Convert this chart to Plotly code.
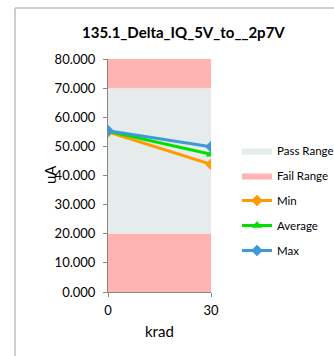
import plotly.graph_objects as go

# Data
krad = [0, 30]
min_vals = [55.0, 43.8]
avg_vals = [55.2, 47.3]
max_vals = [55.4, 49.9]
pass_low = 20
pass_high = 70
fail_low = 0
fail_high = 80
y_ticks = [0, 10, 20, 30, 40, 50, 60, 70, 80]
x_ticks = [0, 30]

x0, x1 = krad[0], krad[-1]

fig = go.Figure()
fig.add_trace(go.Scatter(
    x=[x0, x1, x1, x0], y=[pass_low, pass_low, pass_high, pass_high],
    fill="toself", fillcolor="#E6EBEB", line=dict(width=0, color="#E6EBEB"),
    mode="lines", name="Pass Range", legendgroup="a", hoverinfo="skip"))
fig.add_trace(go.Scatter(
    x=[x0, x1, x1, x0, None, x0, x1, x1, x0],
    y=[fail_low, fail_low, pass_low, pass_low, None, pass_high, pass_high, fail_high, fail_high],
    fill="toself", fillcolor="#FFB3B3", line=dict(width=0, color="#FFB3B3"),
    mode="lines", name="Fail Range", legendgroup="b", hoverinfo="skip"))
fig.add_trace(go.Scatter(
    x=krad, y=min_vals, name="Min", mode="lines+markers", legendgroup="c",
    line=dict(color="#FF9A00", width=3),
    marker=dict(symbol="diamond", size=9, color="#FF9A00")))
fig.add_trace(go.Scatter(
    x=krad, y=avg_vals, name="Average", mode="lines+markers", legendgroup="d",
    line=dict(color="#00E000", width=3),
    marker=dict(symbol="triangle-up", size=9, color="#00E000")))
fig.add_trace(go.Scatter(
    x=krad, y=max_vals, name="Max", mode="lines+markers", legendgroup="e",
    line=dict(color="#3C9AD6", width=3),
    marker=dict(symbol="diamond", size=9, color="#3C9AD6")))

W, H = 334, 356
L, T = 108, 59
pw, ph = 103, 233
R = W - L - pw
B = H - T - ph

def px(x):
    return (x - L) / pw

def py(y):
    return (H - B - y) / ph

font = "Lato, Liberation Sans, Arial, sans-serif"
fig.update_layout(
    width=W, height=H,
    margin=dict(l=L, r=R, t=T, b=B, autoexpand=False),
    paper_bgcolor="white", plot_bgcolor="white",
    font=dict(family=font, size=12, color="#000000"),
    showlegend=True,
    legend=dict(x=px(237), y=py(136), xanchor="left", yanchor="top",
                font=dict(size=11.5), tracegroupgap=6, bgcolor="rgba(0,0,0,0)"),
    xaxis=dict(range=[x0, x1], tickvals=x_ticks, showgrid=False, zeroline=False,
               showline=True, linecolor="#868686", linewidth=1,
               ticks="outside", ticklen=4, tickcolor="#868686",
               tickfont=dict(size=13), automargin=False, ticklabelstandoff=2),
    yaxis=dict(range=[fail_low, fail_high], tickvals=y_ticks, tickformat=".3f",
               showgrid=False, zeroline=False,
               showline=True, linecolor="#868686", linewidth=1,
               ticks="outside", ticklen=4, tickcolor="#868686",
               tickfont=dict(size=13), automargin=False, ticklabelstandoff=5),
    annotations=[
        dict(text="<b>135.1_Delta_IQ_5V_to__2p7V</b>", x=px(183), y=py(32),
             xref="paper", yref="paper", showarrow=False,
             font=dict(size=15), xanchor="center", yanchor="middle"),
        dict(text="uA", x=px(50), y=py(175), xref="paper", yref="paper",
             showarrow=False, textangle=-90, font=dict(size=15),
             xanchor="center", yanchor="middle"),
        dict(text="krad", x=px(159), y=py(331), xref="paper", yref="paper",
             showarrow=False, font=dict(size=15),
             xanchor="center", yanchor="middle"),
    ],
    shapes=[
        dict(type="line", xref="paper", yref="paper", x0=px(15), x1=px(340),
             y0=py(8), y1=py(8), line=dict(color="#BFBFBF", width=1.5)),
        dict(type="line", xref="paper", yref="paper", x0=px(15), x1=px(15),
             y0=py(8), y1=py(360), line=dict(color="#BFBFBF", width=1.5)),
    ],
)

fig.write_html(
    "out.html",
    config={"displayModeBar": False},
    post_script="document.body.style.margin='0';document.body.style.overflow='hidden';",
)
